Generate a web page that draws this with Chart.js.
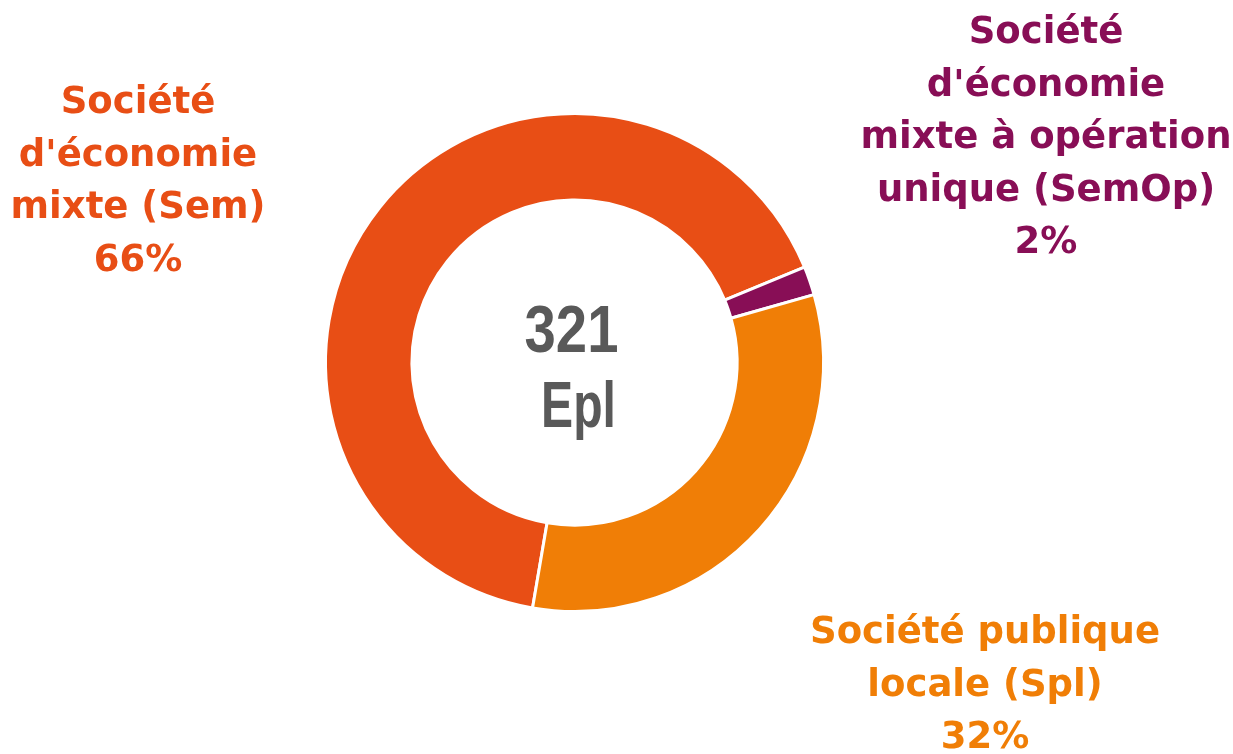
<!DOCTYPE html>
<html>
<head>
<meta charset="utf-8">
<script src="https://cdn.jsdelivr.net/npm/chart.js@4/dist/chart.umd.min.js"></script>
<style>
  html, body { margin: 0; padding: 0; background: #fff; }
  canvas { display: block; }
</style>
</head>
<body>
<canvas id="eplChart" width="1233" height="754"></canvas>
<script>
// Epl counts by type
const categories = ['Sem', 'SemOp', 'Spl'];
const counts = [212, 6, 103];
const colors = ['#E84E15', '#880E56', '#F07E06'];
const labelLines = [
  ['Société', "d'économie", 'mixte (Sem)'],
  ['Société', "d'économie", 'mixte à opération', 'unique (SemOp)'],
  ['Société publique', 'locale (Spl)']
];
const centerUnit = 'Epl';

const total = counts.reduce((a, b) => a + b, 0);

// where each outside label block sits (center x, first baseline)
const labelPos = [
  { x: 138, y: 113 },
  { x: 1046, y: 43 },
  { x: 985, y: 643 }
];
const lineGap = 52.5;
const labelFont = 'bold 37px "DejaVu Sans", sans-serif';
const centerFont = '"Liberation Sans", Arial, sans-serif';

// draw text squeezed horizontally, centred on x
function squeezedText(ctx, text, x, y, sx) {
  ctx.save();
  ctx.translate(x, y);
  ctx.scale(sx, 1);
  ctx.fillText(text, 0, 0);
  ctx.restore();
}

const textPlugin = {
  id: 'eplText',
  afterDraw(chart) {
    const ctx = chart.ctx;
    const arc = chart.getDatasetMeta(0).data[0];
    ctx.save();
    ctx.textAlign = 'center';
    ctx.textBaseline = 'alphabetic';

    // center total
    ctx.fillStyle = '#595959';
    ctx.font = 'bold 67px ' + centerFont;
    squeezedText(ctx, String(total), arc.x - 3, 352, 0.84);
    ctx.font = 'bold 65px ' + centerFont;
    squeezedText(ctx, centerUnit, arc.x + 4, 427, 0.74);

    // outside labels
    ctx.font = labelFont;
    categories.forEach((c, i) => {
      const pct = Math.round(counts[i] / total * 100) + '%';
      const lines = labelLines[i].concat([pct]);
      ctx.fillStyle = colors[i];
      lines.forEach((t, j) => {
        ctx.fillText(t, labelPos[i].x, labelPos[i].y + j * lineGap);
      });
    });
    ctx.restore();
  }
};

new Chart(document.getElementById('eplChart').getContext('2d'), {
  type: 'doughnut',
  data: {
    labels: categories,
    datasets: [{
      data: counts,
      backgroundColor: colors,
      borderColor: '#ffffff',
      borderWidth: 3,
      hoverOffset: 0
    }]
  },
  options: {
    responsive: false,
    animation: false,
    rotation: 189.7,
    cutout: '65.3%',
    layout: {
      padding: { left: 324, top: 112, right: 408, bottom: 141 }
    },
    plugins: {
      legend: { display: false },
      tooltip: { enabled: false }
    }
  },
  plugins: [textPlugin]
});
</script>
</body>
</html>
